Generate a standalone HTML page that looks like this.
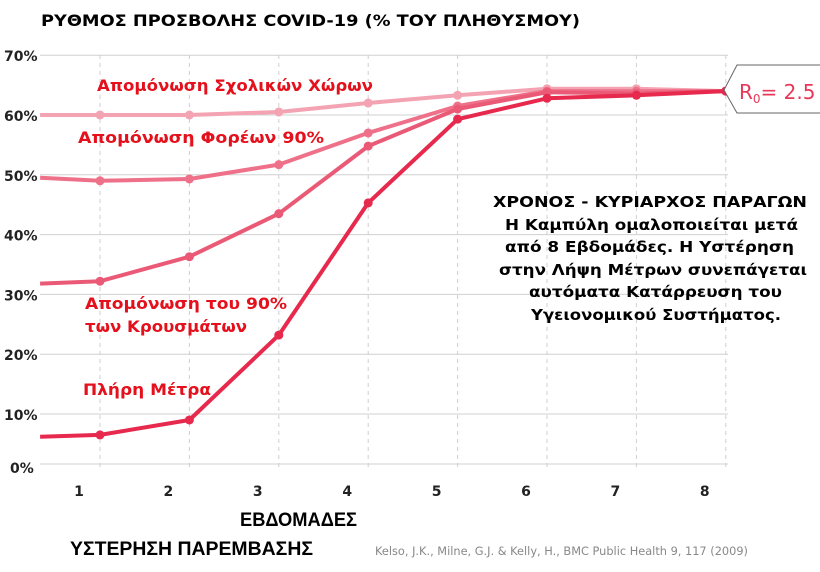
<!DOCTYPE html>
<html><head><meta charset="utf-8"><style>
html,body{margin:0;padding:0;background:#fff}
svg{display:block;font-family:"DejaVu Sans","Liberation Sans",sans-serif}
</style></head><body>
<svg id="chart" width="820" height="572" viewBox="0 0 820 572">
<text x="41" y="26" font-size="16" font-weight="bold" fill="#000" textLength="539" lengthAdjust="spacingAndGlyphs">ΡΥΘΜΟΣ ΠΡΟΣΒΟΛΗΣ COVID-19 (% ΤΟΥ ΠΛΗΘΥΣΜΟΥ)</text>
<g id="grid"></g>
<g id="series"></g>
<g id="labels" font-family="DejaVu Sans, sans-serif">
<text x="97" y="91" font-size="16" font-weight="bold" fill="#e4101c" textLength="276" lengthAdjust="spacingAndGlyphs">Απομόνωση Σχολικών Χώρων</text>
<text x="78" y="143" font-size="16" font-weight="bold" fill="#e4101c" textLength="246" lengthAdjust="spacingAndGlyphs">Απομόνωση Φορέων 90%</text>
<text x="85" y="309" font-size="16" font-weight="bold" fill="#e4101c" textLength="202" lengthAdjust="spacingAndGlyphs">Απομόνωση του 90%</text>
<text x="85" y="332" font-size="16" font-weight="bold" fill="#e4101c" textLength="162" lengthAdjust="spacingAndGlyphs">των Κρουσμάτων</text>
<text x="83" y="395" font-size="16" font-weight="bold" fill="#e4101c" textLength="128" lengthAdjust="spacingAndGlyphs">Πλήρη Μέτρα</text>
</g>
<g font-size="15" font-weight="bold" fill="#000">
<text x="493" y="207" textLength="314" lengthAdjust="spacingAndGlyphs">ΧΡΟΝΟΣ - ΚΥΡΙΑΡΧΟΣ ΠΑΡΑΓΩΝ</text>
<text x="505" y="230" textLength="293" lengthAdjust="spacingAndGlyphs">Η Καμπύλη ομαλοποιείται μετά</text>
<text x="505" y="252" textLength="289" lengthAdjust="spacingAndGlyphs">από 8 Εβδομάδες. Η Υστέρηση</text>
<text x="499" y="275" textLength="308" lengthAdjust="spacingAndGlyphs">στην Λήψη Μέτρων συνεπάγεται</text>
<text x="529" y="297" textLength="253" lengthAdjust="spacingAndGlyphs">αυτόματα Κατάρρευση του</text>
<text x="531" y="320" textLength="250" lengthAdjust="spacingAndGlyphs">Υγειονομικού Συστήματος.</text>
</g>
<g>
<path d="M820,65 L737,65 L724,90 L737,113 L820,113" fill="#fff" stroke="#666" stroke-width="1"/>
<text x="739" y="99" font-size="20" fill="#e8385a">R<tspan font-size="12" dy="4">0</tspan><tspan dy="-4">= 2.5</tspan></text>
</g>
<text x="240" y="526" font-family="Liberation Sans, sans-serif" font-size="19" font-weight="bold" textLength="117" lengthAdjust="spacingAndGlyphs">ΕΒΔΟΜΑΔΕΣ</text>
<text x="70" y="555" font-family="Liberation Sans, sans-serif" font-size="19" font-weight="bold" textLength="243" lengthAdjust="spacingAndGlyphs">ΥΣΤΕΡΗΣΗ ΠΑΡΕΜΒΑΣΗΣ</text>
<text x="375" y="555" font-size="11.5" fill="#888" textLength="373" lengthAdjust="spacingAndGlyphs">Kelso, J.K., Milne, G.J. &amp; Kelly, H., BMC Public Health 9, 117 (2009)</text>
</svg>
<script>
const weeks = [0.33, 1, 2, 3, 4, 5, 6, 7, 8];
const schools = [60, 60, 60, 60.5, 62, 63.3, 64.4, 64.4, 64];
const carriers = [49.5, 49, 49.3, 51.7, 57, 61.5, 64, 64, 64];
const cases = [31.8, 32.2, 36.3, 43.5, 54.8, 61, 63.8, 63.6, 64];
const full = [6.2, 6.5, 9, 23.2, 45.3, 59.3, 62.8, 63.3, 64];
const yTicks = [10, 20, 30, 40, 50, 60, 70];
const yTickLabels = ["10%", "20%", "30%", "40%", "50%", "60%", "70%"];
const xTicks = [1, 2, 3, 4, 5, 6, 7, 8];

const NS = "http://www.w3.org/2000/svg";
function xs(w){ return 100 + (w - 1) * 89.4; }
function ys(v){ return 414 - (v - 10) * 5.98; }
function mk(tag, attrs, parent){
  const e = document.createElementNS(NS, tag);
  for (const k in attrs) e.setAttribute(k, attrs[k]);
  parent.appendChild(e);
  return e;
}
const grid = document.getElementById("grid");
yTicks.forEach((t, i) => {
  const l = mk("line", {x1: 40, x2: 728, y1: ys(t), y2: ys(t), stroke: "#d0d0d0", "stroke-width": 1}, grid);
  
  
  const tx = mk("text", {x: 4, y: ys(t) + 6, "font-size": 14, "font-weight": "bold", fill: "#222"}, grid);
  tx.textContent = yTickLabels[i];
  
  
});
const base = mk("line", {x1: 40, x2: 728, y1: 464, y2: 464, stroke: "#d0d0d0", "stroke-width": 1}, grid);


const z = mk("text", {x: 10, y: 473, "font-size": 14, "font-weight": "bold", fill: "#222"}, grid);
z.textContent = "0%";


xTicks.forEach(t => {
  const l = mk("line", {x1: xs(t), x2: xs(t), y1: 55, y2: 470, stroke: "#cfcfcf", "stroke-width": 1, "stroke-dasharray": "4,4"}, grid);
  
  
  const tx = mk("text", {x: xs(t) - 21, y: 496, "font-size": 14, "font-weight": "bold", fill: "#222", "text-anchor": "middle"}, grid);
  tx.textContent = String(t);
  
  
});
const sg = document.getElementById("series");
const defs = [
  [schools, "#f4a3b2", "series-school-isolation"],
  [carriers, "#ee7189", "series-carrier-isolation"],
  [cases, "#ea5a76", "series-case-isolation"],
  [full, "#e6294d", "series-full-measures"]
];
defs.forEach(([vals, col, name]) => {
  const pts = vals.map((v, i) => xs(weeks[i]).toFixed(1) + "," + ys(v).toFixed(1)).join(" ");
  const pl = mk("polyline", {points: pts, fill: "none", stroke: col, "stroke-width": 4, "stroke-linejoin": "round"}, sg);
  
  
  vals.forEach((v, i) => {
    if (i === 0) return;
    const c = mk("circle", {cx: xs(weeks[i]), cy: ys(v), r: 4.5, fill: col}, sg);
    
    
  });
});
</script>
</body></html>
